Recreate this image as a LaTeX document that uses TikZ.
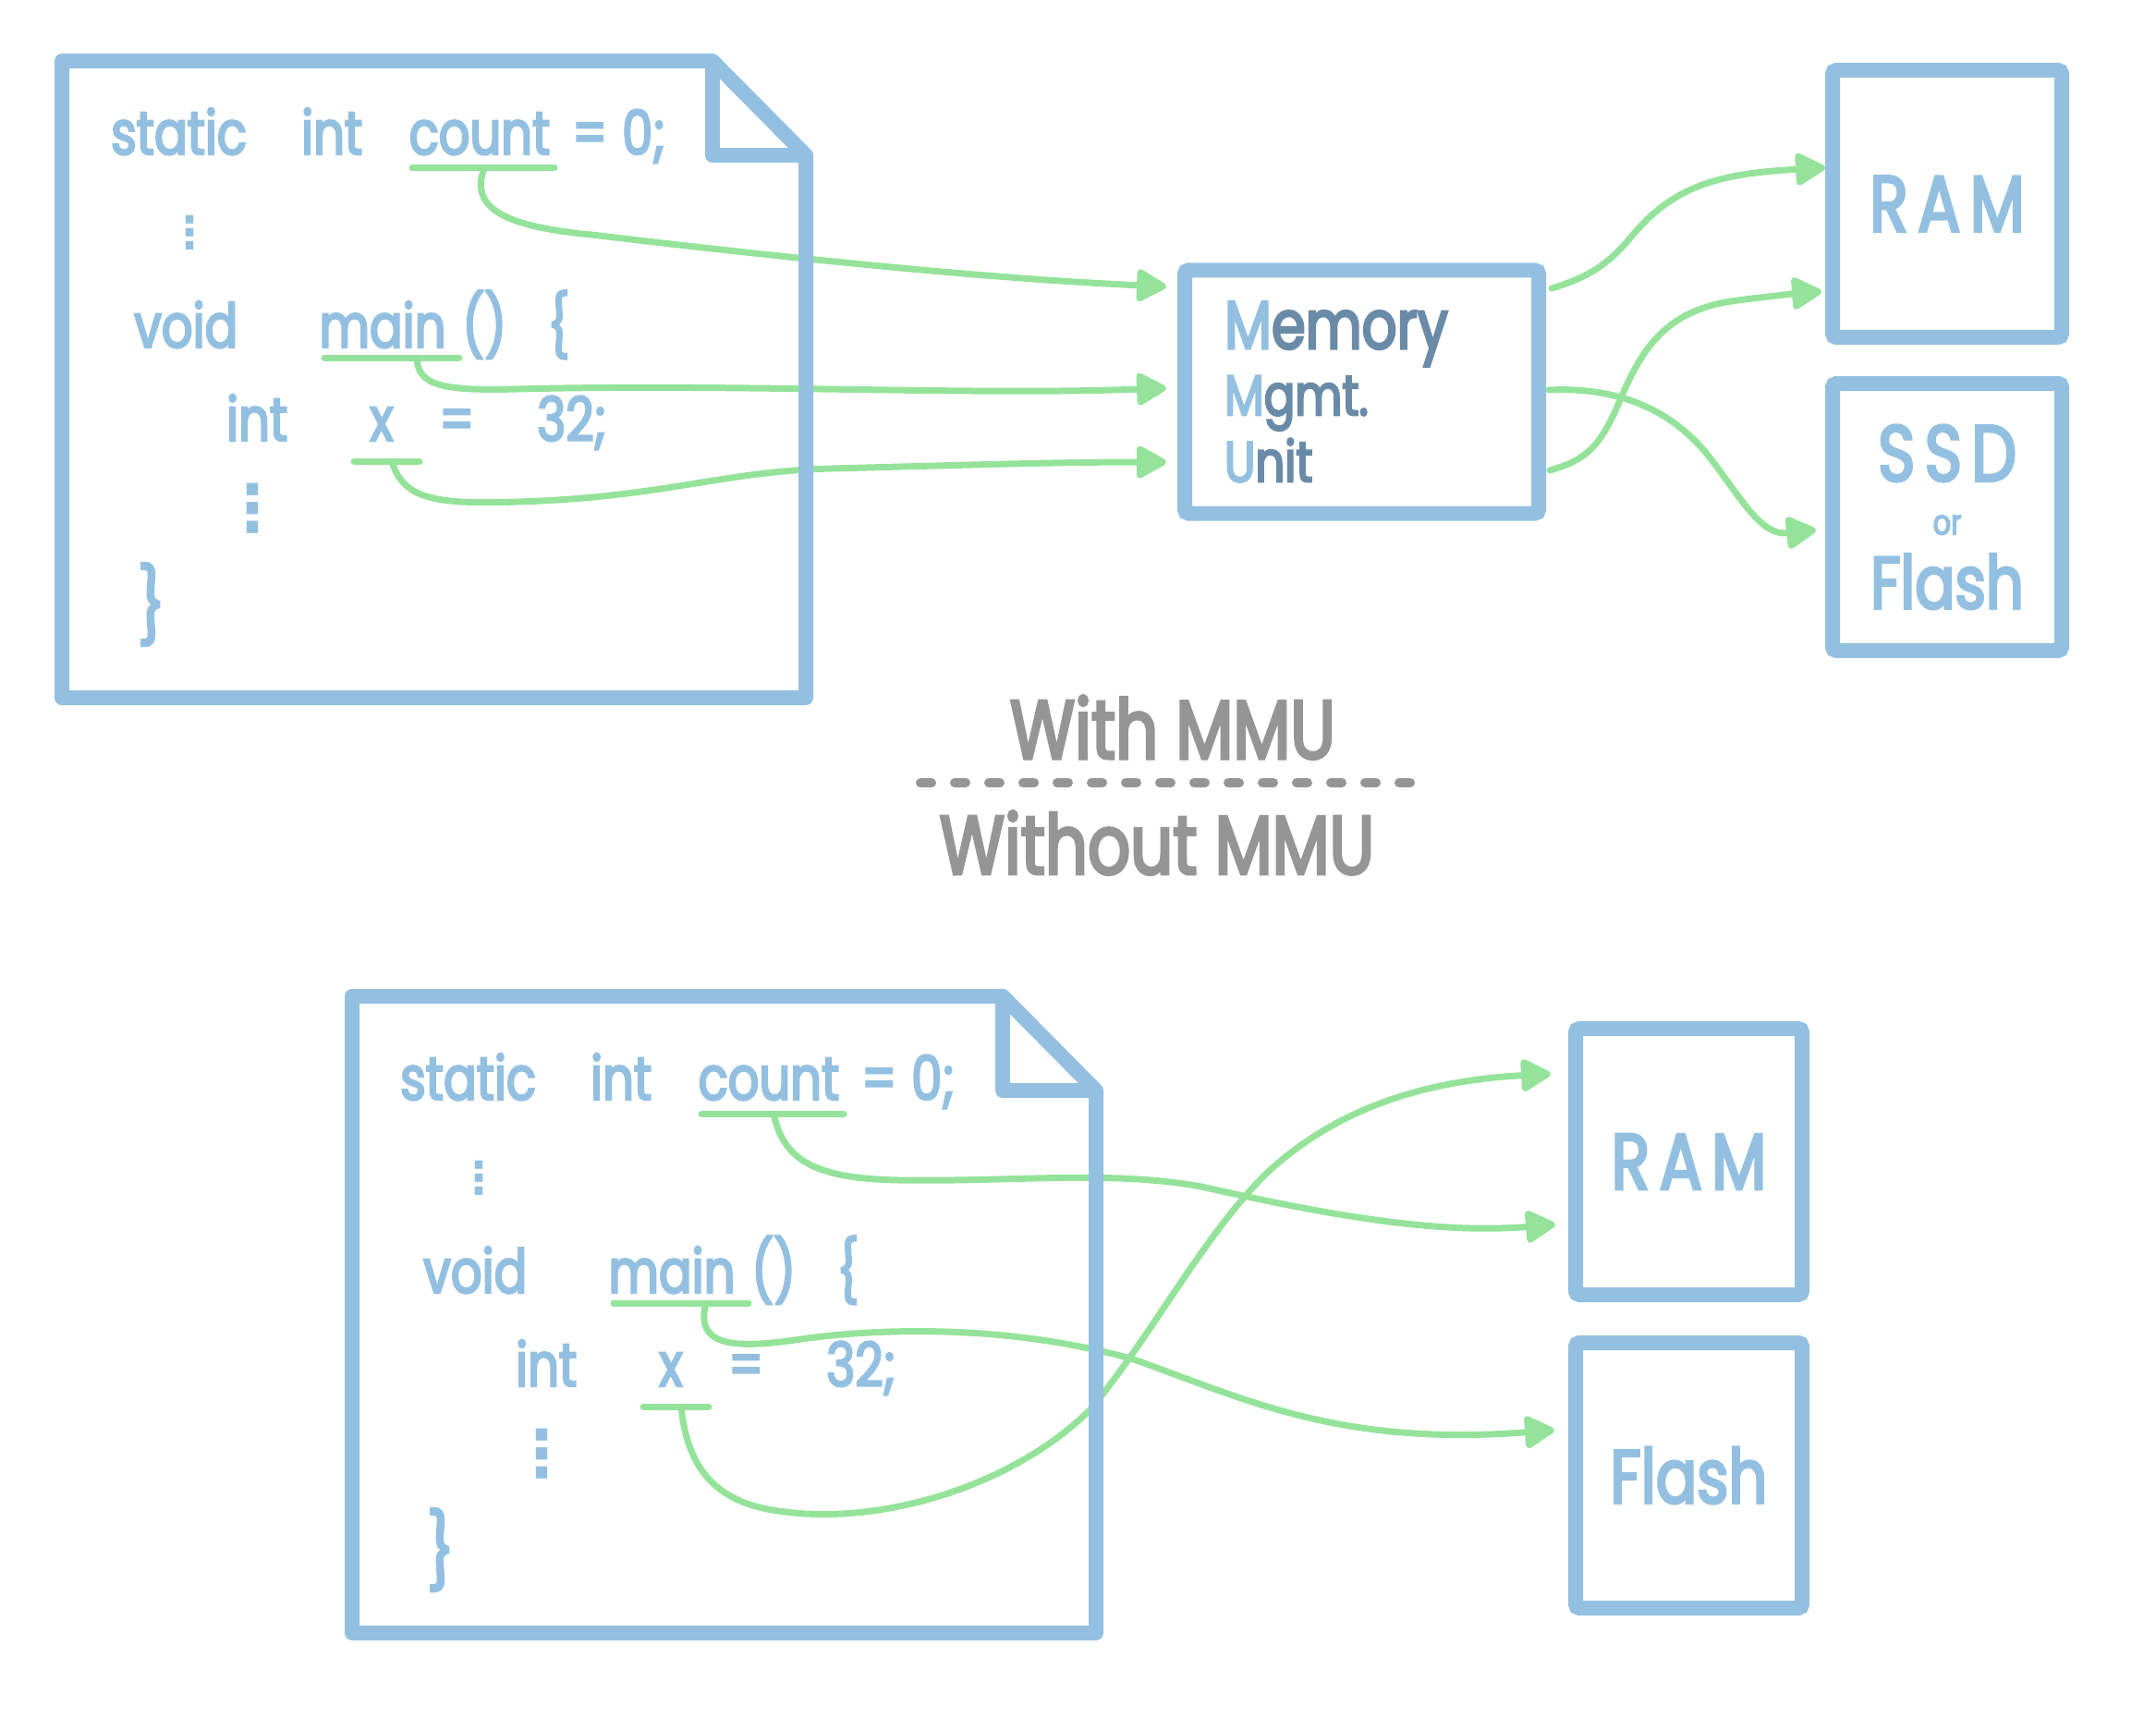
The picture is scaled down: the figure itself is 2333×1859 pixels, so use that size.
\documentclass[tikz,border=0pt]{standalone}
\usepackage{fontspec}
\setmainfont{Poppins}[FakeStretch=0.8,FakeBold=3.5]
\newfontfamily\spacedhand{Poppins}[FakeStretch=0.8,FakeBold=3.5,LetterSpace=12]
\newfontfamily\dotsfont{DejaVu Sans}
\usetikzlibrary{arrows.meta}
\definecolor{inkblue}{HTML}{93C0E0}
\definecolor{inkgreen}{HTML}{95E39B}
\definecolor{inkslate}{HTML}{6A8BA7}
\definecolor{inkgray}{HTML}{959595}

\begin{document}
\begin{tikzpicture}[x=1pt,y=-1pt,
    box/.style={draw=inkblue, line width=16pt, rounded corners=4pt, inner sep=0pt, text=inkblue},
    page/.style={draw=inkblue, line width=16pt, line join=round},
    code/.style={text=inkblue, inner sep=0pt, anchor=base west, font=\fontsize{66}{70}\selectfont},
    vdots/.style={text=inkblue, inner sep=0pt, font=\dotsfont\bfseries\fontsize{48}{48}\selectfont},
    uline/.style={draw=inkgreen, line width=7pt, line cap=round},
    link/.style={draw=inkgreen, line width=7pt, line cap=round, -{Triangle[length=36pt,width=38pt,round]}},
    note/.style={text=inkgray, inner sep=0pt, font=\fontsize{90}{90}\selectfont}]

\useasboundingbox (0,0) rectangle (2333,1859);

% Code on both pages (t = with MMU, b = without)
\foreach \p/\dx/\dy in {t/0/0, b/313/1023} {
  \begin{scope}[shift={(\dx,\dy)}]
    \node[code] (\p static) at (120,167) {static};
    \node[code] (\p int) at (326,167) {int};
    \node[code, anchor=base] (\p count) at (519,167) {count};
    \node[code] (\p eq) at (619,167) {=};
    \node[code] (\p zero) at (673,167) {0;};
    \node[vdots] (\p dots) at (205,252) {⋮};
    \node[code] (\p void) at (145,376) {void};
    \node[code, anchor=base] (\p main) at (414,376) {main};
    \node[code] (\p paren) at (500,376) {()};
    \node[code] (\p open) at (592,376) {\{};
    \node[code] (\p intx) at (245,477) {int};
    \node[code, anchor=base] (\p x) at (413,477) {x};
    \node[code] (\p eqx) at (475,477) {=};
    \node[code] (\p val) at (581,477) {32;};
    \node[vdots, font=\dotsfont\bfseries\fontsize{70}{70}\selectfont] (\p moredots) at (273,550) {⋮};
    \node[code, anchor=center, font=\fontsize{80}{80}\selectfont] (\p close) at (164,654) {\}};
    % underlines
    \draw[uline] ([xshift=-73pt,yshift=-15pt]\p count.base) -- ([xshift=81pt,yshift=-15pt]\p count.base);
    \draw[uline] ([xshift=-63pt,yshift=-11pt]\p main.base) -- ([xshift=83pt,yshift=-11pt]\p main.base);
    \draw[uline] ([xshift=-30pt,yshift=-22pt]\p x.base) -- ([xshift=41pt,yshift=-22pt]\p x.base);
    \coordinate (\p cu) at ([xshift=5pt,yshift=-15pt]\p count.base);
    \coordinate (\p mu) at ([xshift=37pt,yshift=-11pt]\p main.base);
    \coordinate (\p xu) at ([xshift=11pt,yshift=-22pt]\p x.base);
  \end{scope}
}

% With MMU
\node[box, minimum width=383pt, minimum height=263pt, text width=297pt, align=left, text=inkslate,
  font=\fontsize{62}{72}\selectfont] (mmu) at (1473.5,424)
  {{\fontsize{74}{72}\selectfont\textcolor{inkblue}{M}emory}\\ \textcolor{inkblue}{M}gmt.\\ \textcolor{inkblue}{U}nit};
\node[box, minimum width=248pt, minimum height=289pt, font=\spacedhand\fontsize{86}{86}\selectfont] (ramtop) at (2107,220.5) {RAM};
\node[box, minimum width=248pt, minimum height=289pt, align=center, font=\fontsize{80}{66}\selectfont] (ssd) at (2107,559.5)
  {{\spacedhand\fontsize{86}{66}\selectfont SSD}\\[-8pt] {\fontsize{38}{66}\selectfont or}\\[14pt] Flash};

% Without MMU
\node[box, minimum width=245pt, minimum height=288pt, font=\spacedhand\fontsize{86}{86}\selectfont] (rambot) at (1827.5,1257) {RAM};
\node[box, minimum width=245pt, minimum height=287pt, font=\fontsize{82}{82}\selectfont] (flash) at (1827.5,1596.5) {Flash};

% Divider
\node[note] (withmmu) at (1269,787) {With MMU};
\node[note] (withoutmmu) at (1252,912) {Without MMU};
\draw[inkgray, line width=10pt, line cap=round, dash pattern=on 12pt off 25pt] (996,847) -- (1537,847);

% Mappings through the MMU
\draw[link] (tcu) .. controls (508,225) and (545,245) .. (640,254) .. controls (900,285) and (1100,303) .. ([xshift=-12pt,yshift=114pt]mmu.west);
\draw[link] (tmu) .. controls (452,418) and (480,423) .. (560,421) .. controls (800,415) and (1050,428) .. ([xshift=-12pt,yshift=4pt]mmu.west);
\draw[link] (txu) .. controls (436,540) and (470,546) .. (560,543) .. controls (720,538) and (780,510) .. (900,507) .. controls (1050,503) and (1150,500) .. ([xshift=-12pt,yshift=-76pt]mmu.west);
\draw[link] ([xshift=6pt,yshift=112pt]mmu.east) .. controls (1720,300) and (1740,285) .. (1762,260) .. controls (1810,200) and (1860,188) .. ([yshift=39pt]ramtop.west);
\draw[link] ([xshift=3pt,yshift=2pt]mmu.east) .. controls (1760,418) and (1815,450) .. (1850,495) .. controls (1885,540) and (1905,580) .. ([xshift=-10pt,yshift=-14pt]ssd.west);
\draw[link] ([xshift=4pt,yshift=-85pt]mmu.east) .. controls (1715,498) and (1730,485) .. (1750,440) .. controls (1775,380) and (1800,335) .. (1880,325) .. controls (1920,320) and (1950,317) .. ([xshift=-4pt,yshift=-95pt]ramtop.west);

% Direct mappings
\draw[link] (bcu) .. controls (848,1255) and (880,1275) .. (972,1277) .. controls (1100,1279) and (1200,1266) .. (1300,1284) .. controls (1450,1318) and (1560,1335) .. ([xshift=-14pt,yshift=-68pt]rambot.west);
\draw[link] (bmu) .. controls (752,1455) and (790,1460) .. (860,1450) .. controls (960,1435) and (1100,1435) .. (1227,1471) .. controls (1350,1515) and (1450,1565) .. ([xshift=-15pt,yshift=49pt]flash.west);
\draw[link] (bxu) .. controls (744,1590) and (775,1628) .. (850,1636) .. controls (960,1650) and (1100,1605) .. (1180,1525) .. controls (1250,1440) and (1300,1340) .. (1370,1270) .. controls (1440,1205) and (1530,1170) .. ([xshift=-19pt,yshift=95pt]rambot.west);

% Pages with folded corner
\foreach \dx/\dy in {0/0, 314/1012} {
  \begin{scope}[shift={(\dx,\dy)}]
    \draw[page] (67,66) -- (771,66) -- (872,168) -- (872,755) -- (67,755) -- cycle;
    \draw[page] (771,66) -- (771,168) -- (872,168);
  \end{scope}
}
\end{tikzpicture}
\end{document}
